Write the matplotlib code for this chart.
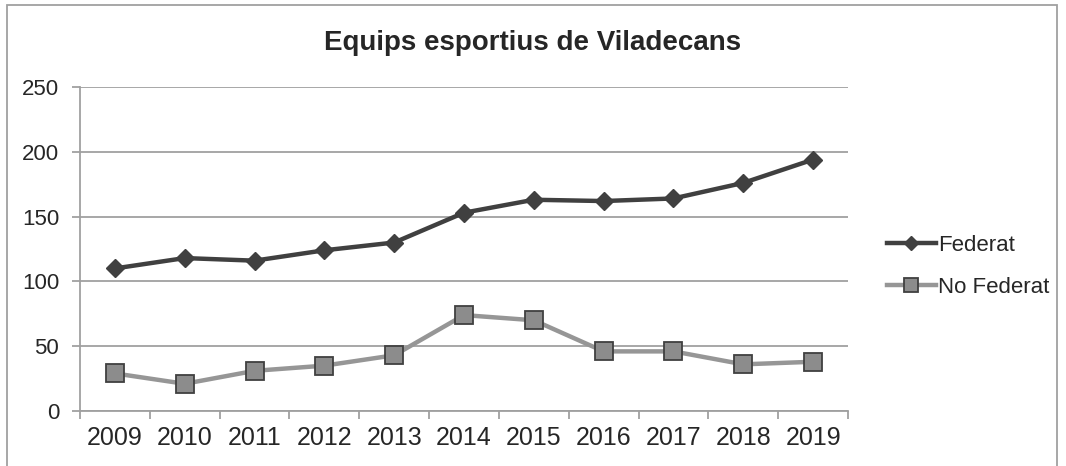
import matplotlib
matplotlib.use("Agg")
import matplotlib.pyplot as plt
from matplotlib.patches import Rectangle

# values
years = ["2009", "2010", "2011", "2012", "2013", "2014",
         "2015", "2016", "2017", "2018", "2019"]
federat = [110, 118, 116, 124, 130, 153, 163, 162, 164, 176, 194]
no_federat = [29, 21, 31, 35, 43, 74, 70, 46, 46, 36, 38]

plt.rcParams['font.family'] = ['Liberation Sans', 'DejaVu Sans']

W, H = 1066, 466
fig = plt.figure(figsize=(W / 100, H / 100), dpi=100)
ax = fig.add_axes([80 / W, 1 - 411 / H, (848 - 80) / W, (411 - 87) / H])

x = list(range(len(years)))
ax.plot(x, federat, color='#404040', lw=3.2, marker='D', ms=9.5,
        mfc='#404040', mec='#404040', label='Federat', zorder=4)
ax.plot(x, no_federat, color='#969696', lw=3.2, marker='s', ms=12.5,
        mfc='#8c8c8c', mec='#404040', mew=1.3, label='No Federat', zorder=3)

ax.set_xlim(-0.5, len(years) - 0.5)
ax.set_ylim(0, 250)
ax.set_yticks(range(0, 251, 50))
ax.grid(axis='y', color='#a0a0a0', lw=1.3)
ax.set_axisbelow(True)

# category boundaries get the tick marks, labels sit in between
ax.set_xticks([i - 0.5 for i in range(len(years) + 1)])
ax.set_xticklabels([])
ax.set_xticks(x, minor=True)
ax.set_xticklabels(years, minor=True)
ax.tick_params(axis='x', which='major', length=6, width=1.3, color='#a0a0a0')
ax.tick_params(axis='x', which='minor', length=0, pad=11, labelsize=18,
               labelcolor='#262626')
ax.tick_params(axis='y', length=6, width=1.3, color='#a0a0a0', pad=9,
               labelsize=16, labelcolor='#262626')

for s in ['top', 'right']:
    ax.spines[s].set_visible(False)
for s in ['left', 'bottom']:
    ax.spines[s].set_color('#a0a0a0')
    ax.spines[s].set_linewidth(1.3)

fig.text(0.5, 1 - 43 / H, 'Equips esportius de Viladecans', ha='center',
         va='center', fontsize=20, fontweight='bold', color='#262626')

fig.legend(loc='center left', bbox_to_anchor=(867 / W, 1 - 266.5 / H),
           frameon=False, fontsize=16, handlelength=2.2, handletextpad=0.1,
           labelspacing=0.95, markerscale=0.8, labelcolor='#262626')

# thin border round the chart area
fig.patches.append(Rectangle((7 / W, -0.05), (1057 - 7) / W, 1.05 - 5 / H,
                             transform=fig.transFigure, fill=False,
                             edgecolor='#a0a0a0', lw=1.3))

fig.savefig('out.png', dpi=100)
